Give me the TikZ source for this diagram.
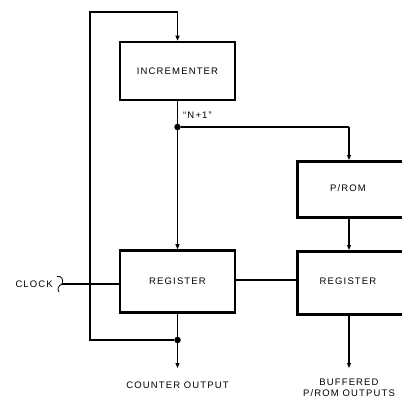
\documentclass[tikz,border=0pt]{standalone}
\usepackage{fontspec}
\setmainfont{Liberation Sans}[LetterSpace=12]
\usetikzlibrary{arrows.meta}
\begin{document}
\begin{tikzpicture}[x=1pt,y=-1pt,
  blk/.style={draw,line width=2.6pt,inner sep=0pt},
  wire/.style={line width=1.1pt},
  arr/.style={wire,-{Triangle[length=5pt,width=4pt]}},
  lbl/.style={font=\fontsize{9.5}{10.5}\selectfont,inner sep=0pt,align=center},
  dotn/.style={circle,fill,inner sep=0pt,minimum size=6.5pt}]
\useasboundingbox (0,0) rectangle (401,406);
\node[blk,minimum width=115pt,minimum height=58pt,lbl] (inc) at (177.5,71) {INCREMENTER};
\node[blk,minimum width=120pt,minimum height=56pt,lbl,anchor=north west] (prom) at (296,160) {};
\node[lbl] (promt) at (348,188) {P/ROM};
\node[blk,minimum width=115pt,minimum height=62pt,lbl] (reg1) at (177.5,281.5) {REGISTER};
\node[blk,minimum width=120pt,minimum height=63pt,lbl,anchor=north west] (reg2) at (296,250) {};
\node[lbl] (reg2t) at (348,281.5) {REGISTER};
\node[dotn] (d1) at (177.5,127) {};
\node[dotn] (d2) at (177.5,340) {};
\node[lbl,anchor=west] (n1) at (183,115) {``N+1''};
\node[lbl] (cout) at (177.5,385) {COUNTER OUTPUT};
\node[lbl] (bout) at (349,388) {BUFFERED\\P/ROM OUTPUTS};
\node[lbl,anchor=east] (clk) at (53,284) {CLOCK};
\coordinate (tl) at (90,12);
\coordinate (tr) at (177.5,12);
\coordinate (bl) at (90,340);
\coordinate (pr) at (349,127);
\coordinate (o1) at (177.5,368);
\coordinate (o2) at (349,368);
\coordinate (ck) at (62,284);
% main vertical
\draw[wire] (inc.south) -- (d1);
\draw[arr] (d1) -- (reg1.north);
\draw[wire] (reg1.south) -- (d2);
\draw[arr] (d2) -- (o1);
% feedback loop
\draw[wire] (d2) -- (bl) -- (tl) -- (tr);
\draw[arr] (tr) -- (inc.north);
% to P/ROM
\draw[wire] (d1) -- (pr);
\draw[arr] (pr) -- (prom.north -| pr);
\draw[arr] (prom.south -| pr) -- (reg2.north -| pr);
\draw[arr] (reg2.south -| pr) -- (o2);
% register link
\draw[wire] (reg1.east |- 0,280) -- (reg2.west |- 0,280);
% clock
\draw[wire] (ck) -- (reg1.west |- ck);
\draw[line width=0.8pt] (57,276.5) .. controls (61,275.5) and (64,279) .. (62,284)
  .. controls (58,286) and (57,289) .. (59,292);
\end{tikzpicture}
\end{document}
